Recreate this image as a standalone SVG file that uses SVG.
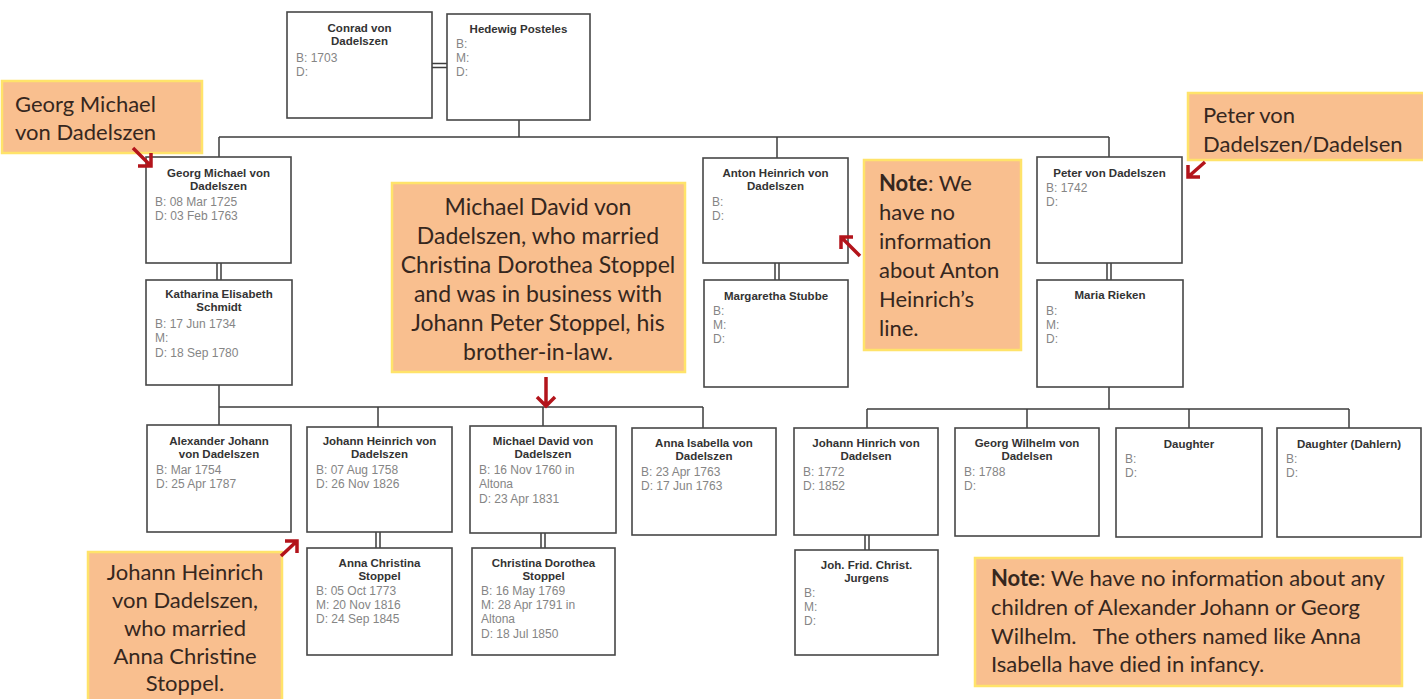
<svg xmlns="http://www.w3.org/2000/svg" width="1423" height="699" viewBox="0 0 1423 699">
  <style>
    .bx { fill: #ffffff; stroke: #474747; stroke-width: 1.6; }
    .t { font-family: "Liberation Sans", Arial, sans-serif; font-weight: bold; font-size: 11.5px; fill: #333333; text-anchor: middle; }
    .d { font-family: "Liberation Sans", Arial, sans-serif; font-size: 12px; fill: #858585; }
    .ln { stroke: #3d3d3d; stroke-width: 1.5; fill: none; }
    .co { fill: #F9BF8F; stroke: #FFE36A; stroke-width: 2.5; }
    .ct { font-family: Lato, "Open Sans", sans-serif; font-size: 22px; fill: #36271e; }
    .big { font-size: 23px; }
    .mid { text-anchor: middle; }
    .ar { stroke: #B3141B; stroke-width: 3.5; fill: none; stroke-linecap: butt; stroke-linejoin: miter; }
  </style>

  <!-- family connectors -->
  <g id="connectors" class="ln">
    <path d="M432 63.5H447M432 67.5H447"/>
    <path d="M519 120V137M219 137H1109M219 137V157M777 137V158M1109 137V157"/>
    <path d="M217 263V280M221 263V280"/>
    <path d="M775 263V280M779 263V280"/>
    <path d="M1107 263V280M1111 263V280"/>
    <path d="M219 385V407M219 407H703M219 407V425M378 407V427M543 407V426M703 407V428"/>
    <path d="M1109 387V409M867 409H1349M867 409V428M1027 409V428M1189 409V428M1349 409V428"/>
    <path d="M376 532V548M380 532V548"/>
    <path d="M541 533V548M545 533V548"/>
    <path d="M865 535V550M869 535V550"/>
  </g>

  <!-- person boxes -->
  <g id="conrad" transform="translate(287,12)">
    <rect class="bx" width="145" height="106"/>
    <text class="t" x="72.5" y="20">Conrad von</text>
    <text class="t" x="72.5" y="33">Dadelszen</text>
    <text class="d" x="9" y="50">B: 1703</text>
    <text class="d" x="9" y="64">D:</text>
  </g>
  <g id="hedewig" transform="translate(447,14)">
    <rect class="bx" width="143" height="106"/>
    <text class="t" x="71.5" y="19">Hedewig Posteles</text>
    <text class="d" x="9" y="34">B:</text>
    <text class="d" x="9" y="48">M:</text>
    <text class="d" x="9" y="62">D:</text>
  </g>
  <g id="georg-michael" transform="translate(146,157)">
    <rect class="bx" width="145" height="106"/>
    <text class="t" x="72.5" y="20">Georg Michael von</text>
    <text class="t" x="72.5" y="33">Dadelszen</text>
    <text class="d" x="9" y="49">B: 08 Mar 1725</text>
    <text class="d" x="9" y="63">D: 03 Feb 1763</text>
  </g>
  <g id="katharina" transform="translate(146,280)">
    <rect class="bx" width="146" height="105"/>
    <text class="t" x="73" y="18">Katharina Elisabeth</text>
    <text class="t" x="73" y="31">Schmidt</text>
    <text class="d" x="9" y="48">B: 17 Jun 1734</text>
    <text class="d" x="9" y="62">M:</text>
    <text class="d" x="9" y="77">D: 18 Sep 1780</text>
  </g>
  <g id="anton" transform="translate(703,158)">
    <rect class="bx" width="145" height="105"/>
    <text class="t" x="72.5" y="19">Anton Heinrich von</text>
    <text class="t" x="72.5" y="32">Dadelszen</text>
    <text class="d" x="9" y="48">B:</text>
    <text class="d" x="9" y="62">D:</text>
  </g>
  <g id="margaretha" transform="translate(704,280)">
    <rect class="bx" width="144" height="107"/>
    <text class="t" x="72" y="20">Margaretha Stubbe</text>
    <text class="d" x="9" y="35">B:</text>
    <text class="d" x="9" y="49">M:</text>
    <text class="d" x="9" y="63">D:</text>
  </g>
  <g id="peter" transform="translate(1037,157)">
    <rect class="bx" width="145" height="106"/>
    <text class="t" x="72.5" y="20">Peter von Dadelszen</text>
    <text class="d" x="9" y="35">B: 1742</text>
    <text class="d" x="9" y="49">D:</text>
  </g>
  <g id="maria" transform="translate(1037,280)">
    <rect class="bx" width="146" height="107"/>
    <text class="t" x="73" y="19">Maria Rieken</text>
    <text class="d" x="9" y="35">B:</text>
    <text class="d" x="9" y="49">M:</text>
    <text class="d" x="9" y="63">D:</text>
  </g>
  <g id="alexander" transform="translate(147,425)">
    <rect class="bx" width="144" height="107"/>
    <text class="t" x="72" y="20">Alexander Johann</text>
    <text class="t" x="72" y="33">von Dadelszen</text>
    <text class="d" x="9" y="49">B: Mar 1754</text>
    <text class="d" x="9" y="63">D: 25 Apr 1787</text>
  </g>
  <g id="johann-heinrich" transform="translate(307,427)">
    <rect class="bx" width="145" height="105"/>
    <text class="t" x="72.5" y="18">Johann Heinrich von</text>
    <text class="t" x="72.5" y="31">Dadelszen</text>
    <text class="d" x="9" y="47">B: 07 Aug 1758</text>
    <text class="d" x="9" y="61">D: 26 Nov 1826</text>
  </g>
  <g id="michael-david" transform="translate(470,426)">
    <rect class="bx" width="146" height="107"/>
    <text class="t" x="73" y="19">Michael David von</text>
    <text class="t" x="73" y="32">Dadelszen</text>
    <text class="d" x="9" y="48">B: 16 Nov 1760 in</text>
    <text class="d" x="9" y="62">Altona</text>
    <text class="d" x="9" y="77">D: 23 Apr 1831</text>
  </g>
  <g id="anna-isabella" transform="translate(632,428)">
    <rect class="bx" width="144" height="107"/>
    <text class="t" x="72" y="19">Anna Isabella von</text>
    <text class="t" x="72" y="32">Dadelszen</text>
    <text class="d" x="9" y="48">B: 23 Apr 1763</text>
    <text class="d" x="9" y="62">D: 17 Jun 1763</text>
  </g>
  <g id="johann-hinrich" transform="translate(794,428)">
    <rect class="bx" width="144" height="107"/>
    <text class="t" x="72" y="19">Johann Hinrich von</text>
    <text class="t" x="72" y="32">Dadelsen</text>
    <text class="d" x="9" y="48">B: 1772</text>
    <text class="d" x="9" y="62">D: 1852</text>
  </g>
  <g id="georg-wilhelm" transform="translate(955,428)">
    <rect class="bx" width="144" height="108"/>
    <text class="t" x="72" y="19">Georg Wilhelm von</text>
    <text class="t" x="72" y="32">Dadelsen</text>
    <text class="d" x="9" y="48">B: 1788</text>
    <text class="d" x="9" y="62">D:</text>
  </g>
  <g id="daughter" transform="translate(1116,428)">
    <rect class="bx" width="146" height="109"/>
    <text class="t" x="73" y="20">Daughter</text>
    <text class="d" x="9" y="35">B:</text>
    <text class="d" x="9" y="49">D:</text>
  </g>
  <g id="daughter-dahlern" transform="translate(1277,428)">
    <rect class="bx" width="144" height="109"/>
    <text class="t" x="72" y="20">Daughter (Dahlern)</text>
    <text class="d" x="9" y="35">B:</text>
    <text class="d" x="9" y="49">D:</text>
  </g>
  <g id="anna-christina" transform="translate(307,548)">
    <rect class="bx" width="145" height="107"/>
    <text class="t" x="72.5" y="19">Anna Christina</text>
    <text class="t" x="72.5" y="32">Stoppel</text>
    <text class="d" x="9" y="47">B: 05 Oct 1773</text>
    <text class="d" x="9" y="61">M: 20 Nov 1816</text>
    <text class="d" x="9" y="75">D: 24 Sep 1845</text>
  </g>
  <g id="christina-dorothea" transform="translate(472,548)">
    <rect class="bx" width="143" height="107"/>
    <text class="t" x="71.5" y="19">Christina Dorothea</text>
    <text class="t" x="71.5" y="32">Stoppel</text>
    <text class="d" x="9" y="47">B: 16 May 1769</text>
    <text class="d" x="9" y="61">M: 28 Apr 1791 in</text>
    <text class="d" x="9" y="75">Altona</text>
    <text class="d" x="9" y="90">D: 18 Jul 1850</text>
  </g>
  <g id="joh-frid" transform="translate(795,550)">
    <rect class="bx" width="143" height="105"/>
    <text class="t" x="71.5" y="19">Joh. Frid. Christ.</text>
    <text class="t" x="71.5" y="32">Jurgens</text>
    <text class="d" x="9" y="47">B:</text>
    <text class="d" x="9" y="61">M:</text>
    <text class="d" x="9" y="75">D:</text>
  </g>

  <!-- annotation callouts -->
  <g id="note-georg">
    <rect class="co" x="2" y="81" width="200" height="72"/>
    <text class="ct" x="15" y="112">Georg Michael</text>
    <text class="ct" x="15" y="140">von Dadelszen</text>
    <path class="ar" d="M133 148L151 166M151 153V166H138"/>
  </g>
  <g id="note-peter">
    <rect class="co" x="1188" y="93" width="236" height="67"/>
    <text class="ct" x="1203" y="123">Peter von</text>
    <text class="ct" x="1203" y="152">Dadelszen/Dadelsen</text>
    <path class="ar" d="M1205 162L1188 177M1188 165V177H1200"/>
  </g>
  <g id="note-michael-david">
    <rect class="co" x="392" y="183" width="293" height="189"/>
    <text class="ct big mid" x="538" y="215">Michael David von</text>
    <text class="ct big mid" x="538" y="244">Dadelszen, who married</text>
    <text class="ct big mid" x="538" y="273">Christina Dorothea Stoppel</text>
    <text class="ct big mid" x="538" y="302">and was in business with</text>
    <text class="ct big mid" x="538" y="331">Johann Peter Stoppel, his</text>
    <text class="ct big mid" x="538" y="360">brother-in-law.</text>
    <path class="ar" d="M546 377V406M537 397L546 406L555 397"/>
  </g>
  <g id="note-anton">
    <rect class="co" x="864" y="160" width="157" height="190"/>
    <text class="ct" x="879" y="191"><tspan font-weight="bold">Note</tspan>: We</text>
    <text class="ct" x="879" y="220">have no</text>
    <text class="ct" x="879" y="249">information</text>
    <text class="ct" x="879" y="278">about Anton</text>
    <text class="ct" x="879" y="307">Heinrich’s</text>
    <text class="ct" x="879" y="336">line.</text>
    <path class="ar" d="M860 256L841 237M841 249V237H853"/>
  </g>
  <g id="note-johann-heinrich">
    <rect class="co" x="88" y="552" width="194" height="150"/>
    <text class="ct mid" x="185" y="580">Johann Heinrich</text>
    <text class="ct mid" x="185" y="608">von Dadelszen,</text>
    <text class="ct mid" x="185" y="636">who married</text>
    <text class="ct mid" x="185" y="664">Anna Christine</text>
    <text class="ct mid" x="185" y="691">Stoppel.</text>
    <path class="ar" d="M281 556L297 541M285 541H297V553"/>
  </g>
  <g id="note-children">
    <rect class="co" x="975" y="558" width="427" height="128"/>
    <text class="ct" x="991" y="586"><tspan font-weight="bold">Note</tspan>: We have no information about any</text>
    <text class="ct" x="991" y="615">children of Alexander Johann or Georg</text>
    <text class="ct" x="991" y="644" xml:space="preserve">Wilhelm.   The others named like Anna</text>
    <text class="ct" x="991" y="672">Isabella have died in infancy.</text>
  </g>
</svg>
